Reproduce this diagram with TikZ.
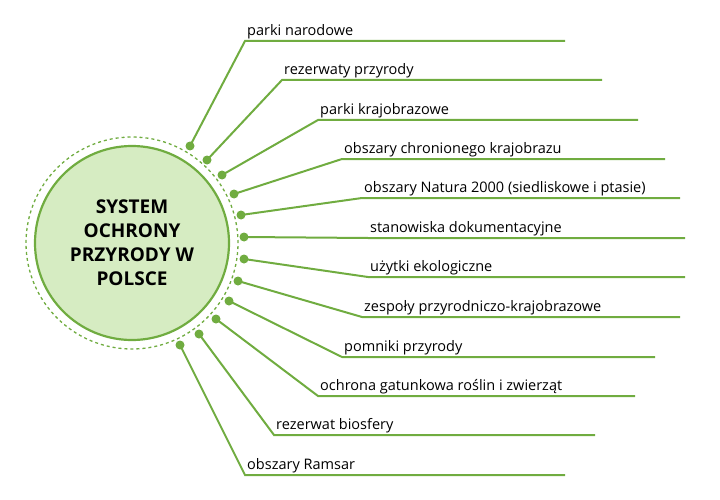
\documentclass[tikz,border=0pt]{standalone}
\usepackage{fontspec}
\setmainfont{Open Sans}
\usetikzlibrary{positioning, calc}
\definecolor{leaf}{RGB}{112,172,64}
\definecolor{leafLight}{RGB}{214,236,194}
\tikzset{
	dot/.style={circle, fill=leaf, inner sep=0pt, minimum size=9pt},
	itemText/.style={anchor=south west, inner sep=2pt, font=\fontsize{14.5}{16}\selectfont},
	link/.style={draw=leaf, line width=2pt}
}
\begin{document}
\begin{tikzpicture}[x=1pt, y=-1pt]
		\useasboundingbox (0,0) rectangle (720,500);
		
		\node (dashRing) at (132,243) [draw=leaf, dashed, line width=1.3pt, circle, minimum size=212pt]{};
		\node (System) at (132,243) [draw=leaf, line width=2.2pt, circle, fill=leafLight, minimum size=194pt, 
		text centered, align=center, font=\bfseries\fontsize{19}{24}\selectfont]{SYSTEM\\OCHRONY\\PRZYRODY W\\POLSCE};
		
		% dots on the ring
		\foreach \name/\px/\py in {d1/190/146, d2/207/160, d3/222/175, d4/234/194, d5/241/215, d6/244/237,
			d7/244/259, d8/238/281, d9/229/301, d10/216/319, d11/199/334, d12/180/345}
		\node (\name) at (\px,\py) [dot]{};
		
		% items
		\foreach \name/\xa/\xb/\py/\txt in {
			i1/245/565/41/{parki narodowe},
			i2/282/602/80/{rezerwaty przyrody},
			i3/318/638/120/{parki krajobrazowe},
			i4/342/665/159/{obszary chronionego krajobrazu},
			i5/362/680/198/{obszary Natura 2000 (siedliskowe i ptasie)},
			i6/368/685/238/{stanowiska dokumentacyjne},
			i7/368/685/277/{użytki ekologiczne},
			i8/362/680/317/{zespoły przyrodniczo-krajobrazowe},
			i9/342/655/357/{pomniki przyrody},
			i10/318/635/396/{ochrona gatunkowa roślin i zwierząt},
			i11/274/595/435/{rezerwat biosfery},
			i12/245/565/475/{obszary Ramsar}}
		{
			\coordinate (\name a) at (\xa,\py);
			\coordinate (\name b) at (\xb,\py);
			\node (\name) at (\xa,\py) [itemText]{\txt};
		}
		
		%Links
		\foreach \n in {1,...,12}
		\draw[link] (d\n.center) -- (i\n a) -- (i\n b);
		
\end{tikzpicture}
\end{document}
